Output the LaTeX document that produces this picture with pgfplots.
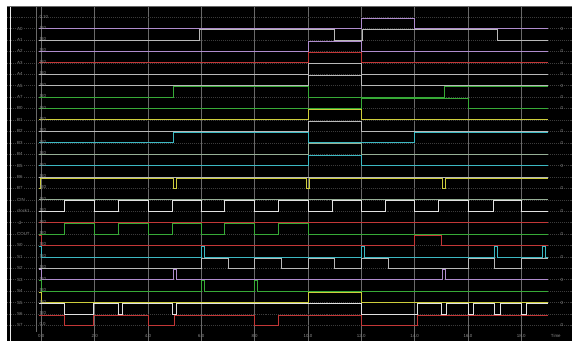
\documentclass[border=0pt]{standalone}
\usepackage{pgfplots}
\pgfplotsset{compat=1.18}
\usepackage{fontspec}
\setmainfont{Liberation Sans}
\definecolor{wpurple}{RGB}{175,140,205}
\definecolor{wgray}{RGB}{185,185,185}
\definecolor{wred}{RGB}{195,55,55}
\definecolor{wgreen}{RGB}{55,170,55}
\definecolor{wyellow}{RGB}{205,205,60}
\definecolor{wcyan}{RGB}{60,185,195}
\definecolor{wwhite}{RGB}{225,225,225}
\definecolor{wgg}{RGB}{150,175,150}
\definecolor{wgrid}{RGB}{105,105,105}
\definecolor{wdim}{RGB}{60,60,60}
\definecolor{wtext}{RGB}{140,140,140}
\newcommand{\sig}[3]{\addplot[const plot, draw=#2, line width=0.75pt] table[row sep=\\, x=t, y expr={#1-10.5*\thisrow{v}}] {#3};}
\begin{document}
\begin{tikzpicture}
\begin{axis}[
  at={(0,0)}, anchor=south west,
  scale only axis, width=572bp, height=345bp,
  xmin=-1.2963, xmax=19.889, ymin=0, ymax=345, y dir=reverse,
  axis background/.style={fill=black},
  axis line style={draw=none},
  xtick={0,2,4,6,8,10,12,14,16,18}, xticklabels={},
  ytick={17,28.6,40.1,51.7,63.2,74.8,86.4,97.9,109.5,121,132.6,144.2,155.7,167.3,178.8,190.4,202,213.5,225.1,236.6,248.2,259.8,271.3,282.9,294.4,306,317.6,329.1},
  yticklabels={},
  major tick length=0pt,
  xmajorgrids, ymajorgrids,
  major x grid style={wgrid, line width=0.7pt},
  major y grid style={wdim, line width=0.5pt, dash pattern=on 1pt off 1pt},
  clip=true,
]
% A0 .. A7
\sig{28.6}{wpurple}{t v\\ -0.1 0\\ 12 1\\ 14 0\\ 19 0\\}
\sig{40.1}{wgray}{t v\\ -0.1 0\\ 5.93 1\\ 11 0\\ 12.04 1\\ 17.1 0\\ 19 0\\}
\sig{51.7}{wpurple}{t v\\ -0.1 0\\ 10 1\\ 12 0\\ 19 0\\}
\sig{63.2}{wred}{t v\\ -0.1 0\\ 10 1\\ 12 0\\ 19 0\\}
\sig{74.8}{wgray}{t v\\ -0.1 0\\ 10 1\\ 12 0\\ 19 0\\}
\sig{86.4}{wgray}{t v\\ -0.1 0\\ 10 1\\ 12 0\\ 19 0\\}
\sig{97.9}{wgreen}{t v\\ -0.1 0\\ 4.95 1\\ 10 0\\ 15.1 1\\ 19 1\\}
% B0 .. B7
\sig{109.5}{wgreen}{t v\\ -0.1 0\\ 12 1\\ 16 0\\ 19 0\\}
\sig{121}{wyellow}{t v\\ -0.1 0\\ 10 1\\ 12 0\\ 19 0\\}
\sig{132.6}{wgray}{t v\\ -0.1 0\\ 10 1\\ 12 0\\ 19 0\\}
\sig{144.2}{wcyan}{t v\\ -0.1 0\\ 4.95 1\\ 10 0\\ 14 1\\ 19 1\\}
\sig{155.7}{wgg}{t v\\ -0.1 0\\ 10 1\\ 12 0\\ 19 0\\}
\sig{167.3}{wcyan}{t v\\ -0.1 0\\ 10 1\\ 12 0\\ 19 0\\}
\sig{178.8}{wgray}{t v\\ -0.1 0\\ 19 0\\}
\sig{190.4}{wyellow}{t v\\ -0.1 0\\ -0.05 1\\ 4.95 0\\ 5.05 1\\ 9.95 0\\ 10.05 1\\ 15.05 0\\ 15.15 1\\ 19 1\\}
% CIN, clock1, row, COUT
\sig{202}{wgg}{t v\\ -0.1 0\\ 19 0\\}
\sig{213.5}{wwhite}{t v\\ -0.1 0\\ 0.85 1\\ 2 0\\ 2.9 1\\ 4 0\\ 4.9 1\\ 6 0\\ 6.85 1\\ 8 0\\ 8.9 1\\ 10 0\\ 10.9 1\\ 12 0\\ 12.9 1\\ 14 0\\ 14.9 1\\ 16 0\\ 16.95 1\\ 18 0\\ 19 0\\}
\sig{225.1}{wred}{t v\\ -0.1 0\\ 19 0\\}
\sig{236.6}{wgreen}{t v\\ -0.1 0\\ 0.85 1\\ 2 0\\ 2.9 1\\ 4 0\\ 4.9 1\\ 6 0\\ 6.85 1\\ 8 0\\ 8.9 1\\ 10 0\\ 19 0\\}
% S0 .. S7
\sig{248.2}{wred}{t v\\ -0.1 1\\ 0 0\\ 14 1\\ 15 0\\ 19 0\\}
\sig{259.8}{wcyan}{t v\\ -0.1 1\\ 0 0\\ 6 1\\ 6.1 0\\ 12 1\\ 12.1 0\\ 17 1\\ 17.1 0\\ 18.8 1\\ 18.9 0\\ 19 0\\}
\sig{271.3}{wgray}{t v\\ -0.1 0\\ 6 1\\ 7 0\\ 8 1\\ 9 0\\ 10 1\\ 11 0\\ 12 1\\ 13 0\\ 16 1\\ 17 0\\ 18 1\\ 19 1\\}
\sig{282.9}{wpurple}{t v\\ -0.1 1\\ 0 0\\ 4.95 1\\ 5.05 0\\ 15.05 1\\ 15.15 0\\ 19 0\\}
\sig{294.4}{wgreen}{t v\\ -0.1 1\\ 0 0\\ 6 1\\ 6.1 0\\ 8 1\\ 8.1 0\\ 19 0\\}
\sig{306}{wyellow}{t v\\ -0.1 1\\ 0 0\\ 10 1\\ 12 0\\ 19 0\\}
\sig{317.6}{wwhite}{t v\\ -0.1 1\\ 0.85 0\\ 1.96 1\\ 2.9 0\\ 3.05 1\\ 4.9 0\\ 5.05 1\\ 12 0\\ 14.1 1\\ 15 0\\ 15.2 1\\ 16 0\\ 16.2 1\\ 17 0\\ 17.2 1\\ 18 0\\ 18.2 1\\ 19 1\\}
\sig{329.1}{wred}{t v\\ -0.1 1\\ 0.85 0\\ 1.96 1\\ 4 0\\ 5 1\\ 8 0\\ 8.9 1\\ 12 0\\ 14.1 1\\ 19 1\\}
\end{axis}
% frame pieces and labels
\begin{scope}[shift={(0bp,345bp)}, x=1bp, y=-1bp]
\fill[white] (0,0) rectangle (572,6);
\draw[wgrid, line width=0.8pt] (0,6.5) -- (572,6.5);
\draw[white!85!gray, line width=1.2pt] (4,6.5) -- (4,345);
\draw[wgrid, line width=0.6pt] (30,6.5) -- (30,336);
\foreach \n/\y in {A0/28.6,A1/40.1,A2/51.7,A3/63.2,A4/74.8,A5/86.4,A7/97.9,B0/109.5,B1/121,B2/132.6,B3/144.2,B4/155.7,B5/167.3,B6/178.8,B7/190.4,CIN/202,clock1/213.5,-d/225.1,COUT/236.6,S0/248.2,S1/259.8,S2/271.3,S3/282.9,S4/294.4,S5/306,S6/317.6,S7/329.1}
  \node[anchor=west, text=wtext, font=\fontsize{4.5}{5}\selectfont, inner sep=0.3pt, fill=black] at (10,\y) {\n};
\node[anchor=west, text=wtext, font=\fontsize{4.5}{5}\selectfont, inner sep=0pt] at (33,17) {0 10};
\foreach \y in {28.6,40.1,51.7,63.2,74.8,86.4,97.9,109.5,121,132.6,144.2,155.7,167.3,178.8,190.4,202,213.5,225.1,236.6,248.2,259.8,271.3,282.9,294.4,306,317.6}
  \node[anchor=west, text=wtext, font=\fontsize{4.5}{5}\selectfont, inner sep=0pt] at (33,\y-1) {St0};
\node[anchor=west, text=wtext, font=\fontsize{4.5}{5}\selectfont, inner sep=0pt] at (33,328) {0.0};
\foreach \y in {28.6,51.7,63.2,74.8,86.4,97.9,109.5,132.6,144.2,167.3,190.4,213.5,236.6,259.8,282.9,306,329.1}
  \node[anchor=center, text=wtext, font=\fontsize{4.5}{5}\selectfont, inner sep=0pt] at (562,\y) {0};
\foreach \x/\t in {35/0.0,89/2.0,143/4.0,197/6.0,251/8.0,305/10.0,359/12.0,413/14.0,467/16.0,521/18.0,556/Time}
  \node[anchor=center, text=wtext, font=\fontsize{4.5}{5}\selectfont, inner sep=0pt] at (\x,340) {\t};
\end{scope}
\end{tikzpicture}
\end{document}
